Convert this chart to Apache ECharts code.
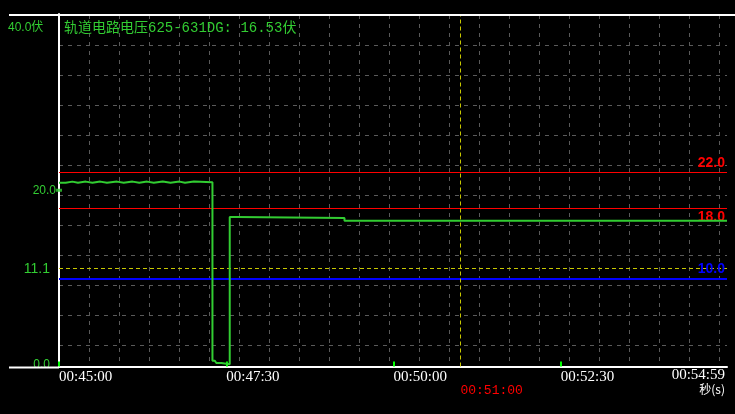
<!DOCTYPE html>
<html lang="en">
<head>
<meta charset="UTF-8">
<title>轨道电路电压</title>
<style>
html, body { margin: 0; padding: 0; background: #000; }
#main { width: 735px; height: 414px; }
</style>
</head>
<body>
<div id="main"></div>

<script src="https://cdn.jsdelivr.net/npm/echarts@6/dist/echarts.min.js"></script>
<script>
// seconds after 00:45:00, and track circuit voltage (V), step held until next point
var timeSec = [0, 6, 12, 17, 24, 30, 37, 43, 52, 58, 66, 72, 79, 85, 93, 100, 108, 113, 121,
               137.6, 139.6, 141.1, 145.6, 150.1, 153.1, 159.6, 256, 599];
var volts = [20.85, 20.98, 20.85, 20.98, 20.85, 20.98, 20.85, 20.98, 20.85, 20.98, 20.85, 20.98,
             20.85, 20.98, 20.85, 20.98, 20.85, 20.98, 20.91,
             0.66, 0.51, 0.40, 0.32, 0.25, 16.96, 16.84, 16.53, 16.53];

var yLabels = [0, 11.1, 20];
var xLabels = [0, 150, 300, 450];
var upperLimit = 22.0, lowerLimit = 18.0, dropLimit = 10.0, refLevel = 11.1;
var cursorSec = 360;     // 00:51:00
var baseSec = 45 * 60;   // 00:45:00
var endSec = 599;
var currentValue = '16.53';

var green = '#32cd32';
var gridGray = '#5a5a5a';

function fmtTime(s) {
    var t = baseSec + Math.round(s);
    var h = Math.floor(t / 3600), m = Math.floor(t % 3600 / 60), sec = t % 60;
    return [h, m, sec].map(function (n) { return (n < 10 ? '0' : '') + n; }).join(':');
}

var seriesData = timeSec.map(function (t, i) { return [t, volts[i]]; });

var myChart = echarts.init(document.getElementById('main'));

var option = {
    backgroundColor: '#000',
    animation: false,
    title: {
        text: '轨道电路电压625-631DG: ' + currentValue + '伏',
        left: 59,
        top: 16,
        textStyle: {
            color: green,
            fontSize: 14,
            fontWeight: 'normal',
            fontFamily: '"Liberation Mono", "Noto Sans CJK SC"'
        }
    },
    grid: [
        { left: 59, right: 8, top: 14, bottom: 47.5 },
        // pixel grid: dashed lines every 30px
        { left: 59, right: 8, top: 15, bottom: 46 }
    ],
    xAxis: [
        {
            type: 'value',
            min: 0,
            max: endSec,
            offset: 1,
            axisLine: { lineStyle: { color: '#fff', width: 2 } },
            axisTick: {
                inside: true,
                length: 5,
                customValues: xLabels,
                lineStyle: { color: '#00ff00', width: 2 }
            },
            axisLabel: {
                customValues: xLabels,
                align: 'left',
                margin: 2,
                color: '#fff',
                fontSize: 15,
                fontFamily: '"Liberation Serif"',
                formatter: function (v) { return fmtTime(v); }
            },
            splitLine: { show: false },
            name: '{a|' + fmtTime(endSec) + '}\n{b|秒(s)}',
            nameLocation: 'end',
            nameGap: -2,
            nameTextStyle: {
                align: 'right',
                verticalAlign: 'top',
                padding: [1, 0, 0, 0],
                rich: {
                    a: { color: '#fff', fontSize: 15, lineHeight: 15, fontFamily: '"Liberation Serif"' },
                    b: { color: '#fff', fontSize: 12, lineHeight: 13, fontFamily: '"Noto Sans CJK SC"' }
                }
            }
        },
        {
            gridIndex: 1,
            type: 'value',
            min: 0,
            max: 668,
            interval: 30,
            axisLine: { show: false },
            axisTick: { show: false },
            axisLabel: { show: false },
            splitLine: { show: true, showMaxLine: false, lineStyle: { color: gridGray, type: [4, 5], width: 1 } }
        }
    ],
    yAxis: [
        {
            type: 'value',
            min: 0,
            max: 40,
            axisLine: { show: true, lineStyle: { color: '#fff', width: 2 } },
            axisTick: { show: false },
            splitLine: { show: false },
            axisLabel: {
                customValues: yLabels,
                margin: 3,
                formatter: function (v) {
                    if (v === 11.1) return '{b|11.1}';
                    if (v === 0) return '{z|0.0}';
                    return '{s|' + v.toFixed(1) + '}';
                },
                rich: {
                    s: { color: green, fontSize: 12, fontFamily: '"Liberation Sans"' },
                    z: { color: green, fontSize: 12, fontFamily: '"Liberation Sans"', padding: [0, 6, 4, 0] },
                    b: { color: green, fontSize: 14, fontFamily: '"Liberation Sans"', padding: [0, 6, 0, 0] }
                }
            }
        },
        {
            gridIndex: 1,
            type: 'value',
            min: 0,
            max: 353,
            interval: 30,
            inverse: true,
            axisLine: { show: false },
            axisTick: { show: false },
            axisLabel: { show: false },
            splitLine: { show: true, showMaxLine: false, lineStyle: { color: gridGray, type: [4, 5], width: 1 } }
        }
    ],
    series: [
        {
            name: '轨道电路电压',
            type: 'line',
            step: 'end',
            data: seriesData,
            showSymbol: false,
            lineStyle: { color: green, width: 2 },
            itemStyle: { color: green },
            z: 5,
            markLine: {
                silent: true,
                symbol: ['none', 'none'],
                animation: false,
                data: [
                    {
                        yAxis: upperLimit,
                        lineStyle: { color: '#ff0000', width: 1, type: 'solid' },
                        label: { position: 'insideEndTop', distance: 2, formatter: upperLimit.toFixed(1),
                                 color: '#ff0000', fontSize: 14, fontWeight: 'bold', fontFamily: '"Liberation Sans"' }
                    },
                    {
                        yAxis: lowerLimit,
                        lineStyle: { color: '#ff0000', width: 1, type: 'solid' },
                        label: { position: 'insideEndBottom', distance: 2, formatter: lowerLimit.toFixed(1),
                                 color: '#ff0000', fontSize: 14, fontWeight: 'bold', fontFamily: '"Liberation Sans"' }
                    },
                    {
                        yAxis: dropLimit,
                        lineStyle: { color: '#0000ff', width: 2, type: 'solid' },
                        label: { position: 'insideEndTop', distance: 2, formatter: dropLimit.toFixed(1),
                                 color: '#0000ff', fontSize: 14, fontWeight: 'bold', fontFamily: '"Liberation Sans"' }
                    },
                    {
                        yAxis: refLevel,
                        lineStyle: { color: '#c8c800', width: 1, type: [4, 3] },
                        label: { show: false }
                    },
                    {
                        xAxis: cursorSec,
                        lineStyle: { color: '#c8c800', width: 1, type: [4, 3] },
                        label: { position: 'start', distance: 24, align: 'left', verticalAlign: 'middle',
                                 formatter: fmtTime(cursorSec),
                                 color: '#ff0000', fontSize: 13, fontFamily: '"Liberation Mono"' }
                    }
                ]
            }
        },
        {
            name: 'marker',
            type: 'scatter',
            data: [[0, 20]],
            symbol: 'rect',
            symbolSize: [6, 3],
            itemStyle: { color: green },
            clip: false,
            z: 6
        }
    ],
    graphic: [
        { type: 'line', shape: { x1: 9, y1: 15, x2: 735, y2: 15 }, style: { stroke: '#fff', lineWidth: 2 }, z: 10 },
        { type: 'line', shape: { x1: 9, y1: 367.5, x2: 59, y2: 367.5 }, style: { stroke: '#fff', lineWidth: 2 }, z: 10 },
        {
            type: 'text', left: 8, top: 22,
            style: { text: '40.0伏', fill: green, fontSize: 12, fontFamily: '"Liberation Sans", "Noto Sans CJK SC"' }
        }
    ]
};

myChart.setOption(option);
</script>
</body>
</html>
